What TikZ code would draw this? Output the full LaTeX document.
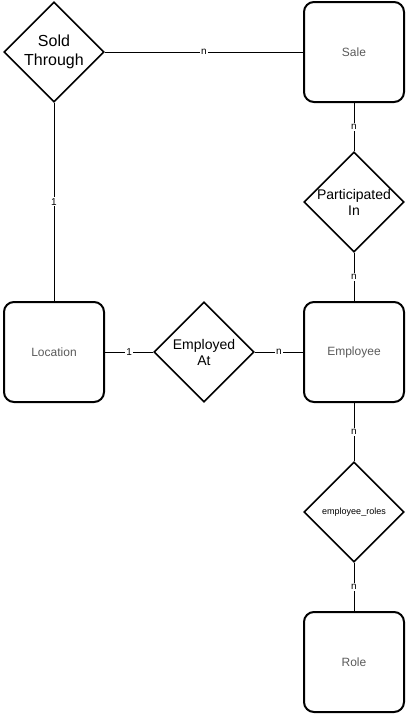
\documentclass[tikz,border=0pt]{standalone}
\usepackage{fontspec}
\setmainfont{Liberation Sans}
\usepackage{xcolor}
\usetikzlibrary{shapes.geometric}
\definecolor{entitygray}{RGB}{90,90,90}
\tikzstyle{entity}=[draw, rectangle, rounded corners=10pt, line width=2pt, minimum size=100pt, inner sep=0pt, text=entitygray, font=\fontsize{12}{14}\selectfont]
\tikzstyle{relation}=[draw, diamond, aspect=1, line width=1.6pt, minimum size=100pt, inner sep=0pt, align=center, font=\fontsize{14}{16}\selectfont]
\tikzstyle{card}=[fill=white, inner sep=1pt, font=\fontsize{10}{11}\selectfont]
\tikzstyle{link}=[line width=1pt]

\begin{document}
\begin{tikzpicture}[x=1pt, y=-1pt]
        \useasboundingbox (0,0) rectangle (406,715);
        \node[relation, font=\fontsize{16}{19}\selectfont] (soldthrough) at (54,52) {Sold\\Through};
        \node[entity] (sale) at (354,52) {Sale};
        \node[relation] (participated) at (354,202) {Participated\\In};
        \node[entity] (location) at (54,352) {Location};
        \node[relation] (employedat) at (204,352) {Employed\\At};
        \node[entity] (employee) at (354,352) {Employee};
        \node[relation, font=\fontsize{9}{10}\selectfont] (emproles) at (354,512) {employee\_roles};
        \node[entity] (role) at (354,662) {Role};
        \draw[link] (soldthrough) -- node[card] {n} (sale);
        \draw[link] (soldthrough) -- node[card] {1} (location);
        \draw[link] (sale) -- node[card] {n} (participated);
        \draw[link] (participated) -- node[card] {n} (employee);
        \draw[link] (location) -- node[card] {1} (employedat);
        \draw[link] (employedat) -- node[card] {n} (employee);
        \draw[link] (employee) -- node[card] {n} (emproles);
        \draw[link] (emproles) -- node[card] {n} (role);
    \end{tikzpicture}
\end{document}
